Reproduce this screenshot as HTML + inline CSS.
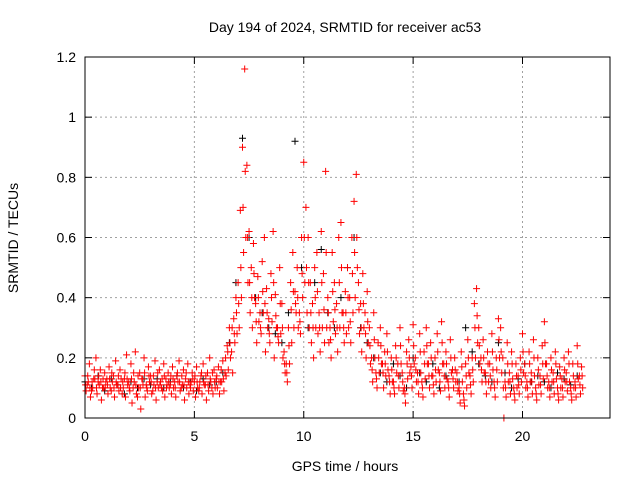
<!DOCTYPE html>
<html><head><meta charset="utf-8"><style>
body{margin:0;background:#fff;font-family:"Liberation Sans",sans-serif}
svg text{font-family:"Liberation Sans",sans-serif;font-size:14px;fill:#000}
</style></head><body>
<svg id="chart" width="640" height="480" xmlns="http://www.w3.org/2000/svg">
<rect width="640" height="480" fill="#fff"/>
<text x="345" y="32" text-anchor="middle">Day 194 of 2024, SRMTID for receiver ac53</text>
<text x="345" y="471" text-anchor="middle">GPS time / hours</text>
<text transform="translate(18,238) rotate(-90)" text-anchor="middle">SRMTID / TECUs</text>
<g id="grid"></g><g id="ticks"></g><g id="marks"></g>
<rect x="85" y="57" width="525" height="361" fill="none" stroke="#000" stroke-width="1"/>
</svg>
<script>
const xTicks=[0,5,10,15,20];
const yTicks=[0,0.2,0.4,0.6,0.8,1.0,1.2];
const yTickLabels=["0","0.2","0.4","0.6","0.8","1","1.2"];
const redStep=0.1;
const redUpper=[.14,.11,.18,.09,.13,.2,.12,.16,.1,.15,
.13,.17,.09,.14,.19,.11,.16,.08,.13,.21,
.12,.18,.1,.22,.07,.15,.13,.2,.11,.17,
.14,.09,.19,.12,.16,.1,.18,.13,.15,.11,
.17,.12,.14,.19,.1,.16,.13,.18,.11,.15,
.12,.17,.09,.14,.18,.11,.15,.2,.1,.16,
.13,.17,.12,.19,.15,.24,.3,.22,.33,.4,
.45,.69,.9,1.16,.84,.62,.5,.58,.38,.47,
.35,.52,.6,.43,.33,.48,.62,.41,.3,.5,
.38,.22,.18,.3,.45,.55,.42,.5,.35,.6,
.85,.7,.6,.45,.38,.5,.55,.35,.62,.48,
.82,.4,.3,.55,.45,.38,.6,.65,.35,.42,
.5,.4,.6,.72,.81,.45,.38,.48,.35,.42,
.3,.2,.35,.15,.25,.3,.18,.22,.28,.14,
.2,.12,.24,.18,.3,.15,.1,.22,.26,.17,
.31,.2,.15,.28,.12,.22,.3,.18,.25,.14,
.2,.28,.15,.32,.18,.22,.12,.26,.16,.2,
.15,.1,.22,.08,.18,.26,.14,.2,.38,.43,
.3,.2,.26,.15,.22,.18,.28,.12,.2,.33,
.3,.2,.12,.25,.15,.22,.1,.18,.14,.2,
.28,.18,.12,.22,.15,.26,.1,.2,.14,.24,
.32,.18,.12,.2,.15,.22,.1,.17,.13,.2,
.15,.22,.1,.18,.12,.24,.14,.17];
const redMid=[.11,.14,.1,.12,.16,.1,.14,.12,.13,.1,
.11,.13,.15,.1,.12,.14,.1,.12,.15,.13,
.1,.13,.15,.11,.14,.1,.13,.15,.1,.14,
.12,.14,.1,.15,.11,.13,.14,.1,.12,.14,
.13,.1,.15,.12,.14,.11,.15,.12,.1,.13,
.14,.12,.1,.15,.12,.14,.11,.13,.15,.12,
.14,.12,.16,.13,.2,.22,.25,.3,.28,.35,
.38,.5,.7,.82,.6,.45,.4,.48,.32,.4,
.3,.42,.38,.35,.28,.4,.45,.34,.27,.38,
.3,.18,.15,.24,.36,.42,.38,.4,.32,.48,
.6,.5,.45,.35,.3,.4,.42,.3,.45,.36,
.55,.35,.26,.42,.36,.3,.45,.5,.3,.35,
.4,.32,.48,.55,.6,.36,.3,.38,.28,.32,
.24,.16,.26,.13,.2,.24,.15,.18,.22,.12,
.16,.1,.2,.14,.24,.12,.08,.18,.2,.14,
.24,.16,.12,.22,.1,.18,.24,.14,.2,.11,
.16,.22,.12,.25,.14,.18,.1,.2,.13,.16,
.12,.08,.17,.06,.14,.2,.11,.16,.3,.34,
.24,.16,.2,.12,.18,.14,.22,.1,.16,.26,
.22,.1,.1,.18,.12,.18,.08,.14,.11,.16,
.22,.14,.1,.18,.12,.2,.08,.16,.11,.18,
.25,.14,.1,.16,.12,.18,.08,.14,.1,.16,
.12,.18,.08,.14,.1,.18,.11,.14];
const redLower=[.09,.12,.07,.1,.13,.08,.11,.06,.1,.12,
.08,.1,.12,.07,.11,.09,.13,.1,.07,.11,
.09,.05,.12,.08,.1,.03,.11,.07,.09,.12,
.08,.11,.06,.1,.12,.09,.07,.11,.1,.08,
.1,.07,.12,.09,.11,.06,.1,.08,.12,.09,
.07,.1,.12,.08,.11,.06,.09,.12,.08,.1,
.1,.08,.12,.09,.14,.16,.2,.15,.25,.28,
.3,.4,.55,.6,.45,.35,.3,.4,.25,.32,
.28,.35,.22,.3,.25,.32,.2,.3,.25,.28,
.2,.15,.12,.18,.25,.3,.35,.3,.28,.4,
.45,.35,.3,.25,.2,.3,.28,.22,.3,.25,
.3,.25,.2,.32,.28,.22,.3,.35,.25,.28,
.3,.25,.35,.4,.5,.28,.22,.3,.2,.25,
.18,.12,.2,.1,.15,.18,.1,.14,.16,.08,
.12,.08,.15,.1,.18,.09,.05,.13,.15,.1,
.18,.12,.08,.15,.07,.13,.18,.1,.14,.08,
.12,.16,.09,.18,.1,.13,.07,.15,.1,.12,
.09,.05,.12,.04,.1,.15,.08,.12,.2,.25,
.18,.12,.15,.08,.12,.1,.16,.07,.12,.2,
.15,.0,.07,.12,.08,.13,.06,.1,.08,.12,
.15,.1,.07,.12,.08,.14,.06,.11,.08,.13,
.18,.1,.07,.12,.08,.13,.06,.1,.07,.12,
.09,.12,.06,.1,.07,.13,.08,.1];
const blackStep=0.3;
const blackValues=[.12,.1,.14,.09,.13,.11,.08,.12,.1,.13,
.11,.13,.1,.12,.14,.1,.12,.09,.13,.11,
.12,.15,.25,.45,.93,.6,.4,.35,.3,.28,
.25,.35,.92,.5,.3,.45,.56,.35,.3,.4,
.5,.6,.3,.25,.2,.15,.12,.18,.14,.1,
.2,.15,.12,.18,.1,.14,.16,.12,.3,.22,
.18,.14,.12,.25,.15,.1,.13,.18,.12,.14,
.12,.1,.15,.13,.11,.14];

const NS="http://www.w3.org/2000/svg";
const X0=85,X1=610,Y0=418,Y1=57,XMAX=24,YMAX=1.2;
function xs(v){return X0+(X1-X0)*v/XMAX;}
function ys(v){return Y0-(Y0-Y1)*v/YMAX;}
function mk(tag,attrs,parent){const e=document.createElementNS(NS,tag);for(const k in attrs)e.setAttribute(k,attrs[k]);parent.appendChild(e);return e;}
const grid=document.getElementById('grid'),ticks=document.getElementById('ticks'),marks=document.getElementById('marks');
yTicks.forEach((v,i)=>{
  const y=ys(v);
  if(i>0&&i<yTicks.length-1){const g=mk('line',{x1:X0,x2:X1,y1:y,y2:y,stroke:'#a0a0a0','stroke-dasharray':'2,3'},grid);
  
  }
  mk('line',{x1:X0,x2:X0+7,y1:y,y2:y,stroke:'#000'},ticks);
  mk('line',{x1:X1,x2:X1-7,y1:y,y2:y,stroke:'#000'},ticks);
  const t=mk('text',{x:X0-9,y:y+5,'text-anchor':'end'},ticks);t.textContent=yTickLabels[i];
  
  
});
xTicks.forEach(v=>{
  const x=xs(v);
  if(v>0){const g=mk('line',{x1:x,x2:x,y1:Y0,y2:Y1,stroke:'#a0a0a0','stroke-dasharray':'2,3'},grid);
  
  }
  mk('line',{x1:x,x2:x,y1:Y0,y2:Y0-7,stroke:'#000'},ticks);
  mk('line',{x1:x,x2:x,y1:Y1,y2:Y1+7,stroke:'#000'},ticks);
  const t=mk('text',{x:x,y:Y0+23,'text-anchor':'middle'},ticks);t.textContent=String(v);
  
  
});
function plus(t,v,color,name){
  const x=xs(t),y=ys(v);
  const p=mk('path',{d:`M${x-3.5},${y}H${x+3.5}M${x},${y-3.5}V${y+3.5}`,stroke:color,'stroke-width':1,fill:'none'},marks);
  
  
}
blackValues.forEach((v,i)=>plus(i*blackStep,v,'#000','black-point'));
redUpper.forEach((v,i)=>plus(i*redStep,v,'#ff0000','red-point'));
redMid.forEach((v,i)=>plus(i*redStep+0.025,v,'#ff0000','red-point'));
redLower.forEach((v,i)=>plus(i*redStep+0.05,v,'#ff0000','red-point'));
</script>
</body></html>
